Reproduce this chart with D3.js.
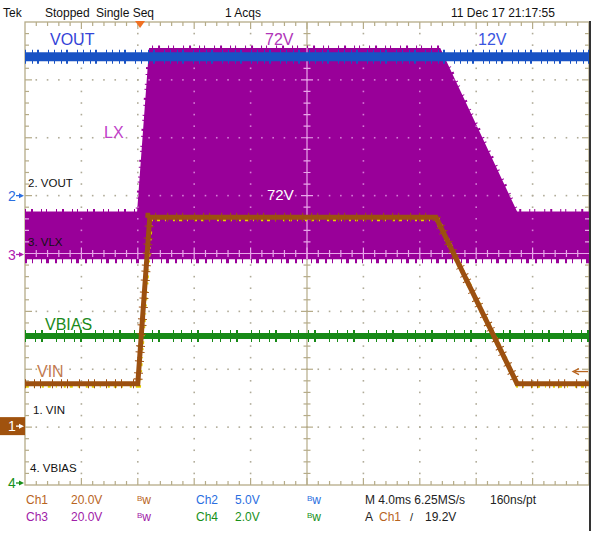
<!DOCTYPE html>
<html><head><meta charset="utf-8">
<script src="https://cdn.jsdelivr.net/npm/d3@7"></script>
<style>body{margin:0;background:#fff}svg{display:block}text{font-family:"Liberation Sans",Arial,sans-serif}</style>
</head><body><svg id="c" width="600" height="536"></svg>
<script>
// ---- data (time in ms across the 10-division screen, voltages in volts) ----
const vinTime = [0, 8.0, 8.85, 29.15, 34.9, 40];
const vinVolts = [15, 15, 72.5, 72.5, 15, 15];
const lxTime = [0, 7.95, 8.8, 29.45, 34.9, 40];
const lxTopVolts = [14.5, 14.5, 71, 71, 14.5, 14.5];
const lxLowVolts = [-2, -2, -2, -2, -2, -2];
const voutTime = [0, 40];
const voutVolts = [12, 12];
const vbiasTime = [0, 40];
const vbiasVolts = [5.15, 5.15];

const chNames = ["Ch1", "Ch2", "Ch3", "Ch4"];
const chVoltsPerDiv = [20, 5, 20, 2];
const chOffsetDiv = [-3, 1, 0, -4];
const chScaleLabels = ["20.0V", "5.0V", "20.0V", "2.0V"];
const chColors = ["#b8641e", "#2a6ee0", "#a020a8", "#18901a"];
const timeDomain = [0, 40];
const xDivs = 10, yDivs = 8;

// ---- layout ----
const L = 25, R = 589, T = 22, B = 485;
const divX = (R - L) / xDivs, divY = (B - T) / yDivs;
const cy = (T + B) / 2, cx = (L + R) / 2;
const svg = d3.select("#c");

const x = d3.scaleLinear().domain(timeDomain).range([L, R]);
const yCh = chVoltsPerDiv.map((vd, i) => {
  const zero = cy - chOffsetDiv[i] * divY;
  return d3.scaleLinear().domain([0, vd]).range([zero, zero - divY]);
});

// ---- graticule ----
const gx = d3.scaleLinear().domain([0, xDivs]).range([L, R]);
const gy = d3.scaleLinear().domain([0, yDivs]).range([T, B]);
function graticule(g, col, dotCol) {
  const dots = [];
  for (let i = 1; i < xDivs; i++) for (let k = 1; k < yDivs * 5; k++) if (i !== 5) dots.push([gx(i), gy(k / 5)]);
  for (let j = 1; j < yDivs; j++) for (let k = 1; k < xDivs * 5; k++) if (j !== 4) dots.push([gx(k / 5), gy(j)]);
  g.selectAll("rect.d").data(dots).join("rect").attr("class", "d")
    .attr("x", d => d[0] - 0.8).attr("y", d => d[1] - 0.8).attr("width", 1.6).attr("height", 1.6).attr("fill", dotCol);
  g.append("line").attr("x1", L).attr("x2", R).attr("y1", cy).attr("y2", cy).attr("stroke", col).attr("stroke-width", 1.2);
  g.append("line").attr("x1", cx).attr("x2", cx).attr("y1", T).attr("y2", B).attr("stroke", col).attr("stroke-width", 1.2);
  const hx = d3.range(1, xDivs * 5).map(k => gx(k / 5));
  const vy = d3.range(1, yDivs * 5).map(k => gy(k / 5));
  g.selectAll("line.ch").data(hx).join("line").attr("class", "ch")
    .attr("x1", d => d).attr("x2", d => d).attr("y1", (d, i) => cy - ((i + 1) % 5 ? 3.5 : 6)).attr("y2", (d, i) => cy + ((i + 1) % 5 ? 3.5 : 6))
    .attr("stroke", col).attr("stroke-width", 1.2);
  g.selectAll("line.cv").data(vy).join("line").attr("class", "cv")
    .attr("y1", d => d).attr("y2", d => d).attr("x1", (d, i) => cx - ((i + 1) % 5 ? 3.5 : 6)).attr("x2", (d, i) => cx + ((i + 1) % 5 ? 3.5 : 6))
    .attr("stroke", col).attr("stroke-width", 1.2);
  g.selectAll("line.tt").data(hx).join("line").attr("class", "tt")
    .attr("x1", d => d).attr("x2", d => d).attr("y1", T).attr("y2", (d, i) => T + ((i + 1) % 5 ? 4 : 7)).attr("stroke", col).attr("stroke-width", 1.2);
  g.selectAll("line.tb").data(hx).join("line").attr("class", "tb")
    .attr("x1", d => d).attr("x2", d => d).attr("y1", B).attr("y2", (d, i) => B - ((i + 1) % 5 ? 4 : 7)).attr("stroke", col).attr("stroke-width", 1.2);
  g.selectAll("line.tl").data(vy).join("line").attr("class", "tl")
    .attr("y1", d => d).attr("y2", d => d).attr("x1", L).attr("x2", (d, i) => L + ((i + 1) % 5 ? 4 : 7)).attr("stroke", col).attr("stroke-width", 1.2);
  g.selectAll("line.tr").data(vy).join("line").attr("class", "tr")
    .attr("y1", d => d).attr("y2", d => d).attr("x1", R).attr("x2", (d, i) => R - ((i + 1) % 5 ? 4 : 7)).attr("stroke", col).attr("stroke-width", 1.2);
}
const gridCol = "#b5ab88";
graticule(svg.append("g"), gridCol, "#b0ab98");
svg.append("rect").attr("x", L).attr("y", T).attr("width", R - L).attr("height", B - T)
  .attr("fill", "none").attr("stroke", gridCol).attr("stroke-width", 1.3);

// ---- LX (Ch3) band ----
const lxData = lxTime.map((t, i) => ({ t, top: lxTopVolts[i], low: lxLowVolts[i] }));
const lxArea = d3.area().x(d => x(d.t)).y0(d => yCh[2](d.low)).y1(d => yCh[2](d.top));
const purple = "#990099";
svg.append("path").attr("d", lxArea(lxData)).attr("fill", purple);
svg.append("clipPath").attr("id", "lxclip").append("path").attr("d", lxArea(lxData));
const lineOf = (ys) => d3.line().x(d => x(d.t)).y(ys);
svg.append("path").attr("d", lineOf(d => yCh[2](d.top) - 1)(lxData)).attr("fill", "none")
  .attr("stroke", purple).attr("stroke-width", 3).attr("stroke-dasharray", "1,5,2,8,1,4,1,9");
svg.append("path").attr("d", lineOf(d => yCh[2](d.low) + 1.5)(lxData)).attr("fill", "none")
  .attr("stroke", purple).attr("stroke-width", 5).attr("stroke-dasharray", "2,5,1,8,1,4,3,6");
const pg = svg.append("g").attr("clip-path", "url(#lxclip)");
graticule(pg, "#e9a6ea", "#d57ad6");

// ---- VBIAS (Ch4) ----
const green = "#178a17";
const vbData = vbiasTime.map((t, i) => ({ t, v: vbiasVolts[i] }));
const vbLine = d3.line().x(d => x(d.t)).y(d => yCh[3](d.v));
svg.append("path").attr("d", vbLine(vbData)).attr("fill", "none").attr("stroke", green).attr("stroke-width", 6);
svg.append("path").attr("d", vbLine(vbData)).attr("fill", "none").attr("stroke", green).attr("stroke-width", 12)
  .attr("stroke-dasharray", "1,9,1,5,2,13,1,7");

// ---- VIN (Ch1) ----
const vinData = vinTime.map((t, i) => ({ t, v: vinVolts[i] }));
const vinLine = d3.line().x(d => x(d.t)).y(d => yCh[0](d.v));
svg.append("path").attr("d", vinLine(vinData)).attr("fill", "none").attr("stroke", "#e6d400").attr("stroke-width", 5)
  .attr("transform", "translate(0.8,1.5)").attr("stroke-dasharray", "3,5,1,7,2,4");
svg.append("path").attr("d", vinLine(vinData)).attr("fill", "none").attr("stroke", "#9c5010").attr("stroke-width", 5);
svg.append("path").attr("d", vinLine(vinData)).attr("fill", "none").attr("stroke", "#9c5010").attr("stroke-width", 9)
  .attr("stroke-dasharray", "1,8,1,5,1,11");

// ---- VOUT (Ch2) ----
const blue = "#1852c4";
const voData = voutTime.map((t, i) => ({ t, v: voutVolts[i] }));
const voLine = d3.line().x(d => x(d.t)).y(d => yCh[1](d.v));
svg.append("path").attr("d", voLine(voData)).attr("fill", "none").attr("stroke", blue).attr("stroke-width", 9);
svg.append("path").attr("d", voLine(voData)).attr("fill", "none").attr("stroke", blue).attr("stroke-width", 14)
  .attr("stroke-dasharray", "1,6,1,4,2,9,1,5");

svg.append("line").attr("x1", 590).attr("x2", 590).attr("y1", 21).attr("y2", 531).attr("stroke", "#333").attr("stroke-width", 2);

// ---- texts ----
function txt(s, xx, yy, size, col, anchor) {
  return svg.append("text").attr("x", xx).attr("y", yy).attr("font-size", size).attr("fill", col)
    .attr("text-anchor", anchor || "start").text(s);
}
txt("Tek", 3, 17, 12, "#111");
txt("Stopped", 45, 17, 12, "#111");
txt("Single Seq", 96, 17, 12, "#111");
txt("1 Acqs", 225, 17, 12, "#111");
txt("11 Dec 17 21:17:55", 451, 17, 12, "#111");
svg.append("path").attr("d", d3.line()([[x(8.16) - 5, T - 1], [x(8.16) + 5, T - 1], [x(8.16), T + 6]]) + "Z").attr("fill", "#f07022");

txt("VOUT", 50, 45, 16, "#3344d8");
txt("72V", 265, 45, 16, "#b035b8");
txt("12V", 478, 45, 16, "#3a55e0");
txt("LX", 104, 138, 16, "#c040c8");
txt("72V", 267, 200, 15, "#ffffff");
txt("VBIAS", 45, 330, 16, "#1a8a1a");
txt("VIN", 37, 377, 16, "#c27a50");

txt("2. VOUT", 28, 187, 11.5, "#111");
txt("3. VLX", 28, 246, 11.5, "#111");
txt("1. VIN", 33, 414, 11.5, "#111");
txt("4. VBIAS", 30, 472, 11.5, "#111");

function marker(label, yy, col, boxed) {
  if (boxed) svg.append("rect").attr("x", 0).attr("y", yy - 9).attr("width", 25).attr("height", 18).attr("fill", "#a0520e");
  const c = boxed ? "#fff" : col;
  txt(label, 8, yy + 5, 14, c);
  svg.append("line").attr("x1", 16).attr("x2", 22).attr("y1", yy).attr("y2", yy).attr("stroke", c).attr("stroke-width", 1.3);
  svg.append("path").attr("d", `M19,${yy - 2.5}L24,${yy}L19,${yy + 2.5}Z`).attr("fill", c);
}
marker("2", yCh[1](0), "#2a6ee0");
marker("3", yCh[2](0) + 1, "#b020b0");
marker("1", yCh[0](0) - 1, "#a0520e", true);
marker("4", yCh[3](0) - 2, "#18901a");

const trigLevel = 19.2;
const ty = yCh[0](trigLevel);
svg.append("line").attr("x1", 575).attr("x2", 588).attr("y1", ty).attr("y2", ty).attr("stroke", "#b8641e").attr("stroke-width", 1.3);
svg.append("path").attr("d", `M579,${ty - 3}L573,${ty}L579,${ty + 3}`).attr("fill", "none").attr("stroke", "#b8641e").attr("stroke-width", 1.3);

// ---- bottom readout ----
const rowY = [504, 521];
const order = [[0, 1], [2, 3]];
order.forEach((pair, r) => {
  pair.forEach((ci, k) => {
    const base = k === 0 ? 26 : 196;
    txt(chNames[ci], base, rowY[r], 12, chColors[ci]);
    txt(chScaleLabels[ci], base + (k === 0 ? 45 : 39), rowY[r], 12, chColors[ci]);
    const bw = svg.append("text").attr("x", base + 111).attr("y", rowY[r]).attr("fill", chColors[ci]);
    bw.append("tspan").attr("font-size", 8).attr("dy", -3).text("B");
    bw.append("tspan").attr("font-size", 12).attr("dy", 3).text("w");
  });
});
txt("M 4.0ms 6.25MS/s", 365, rowY[0], 12, "#222");
txt("160ns/pt", 490, rowY[0], 12, "#222");
txt("A", 365, rowY[1], 12, "#222");
txt("Ch1", 379, rowY[1], 12, chColors[0]);
txt("/", 410, rowY[1], 11, "#222");
txt("19.2V", 425, rowY[1], 12, "#222");
</script></body></html>
